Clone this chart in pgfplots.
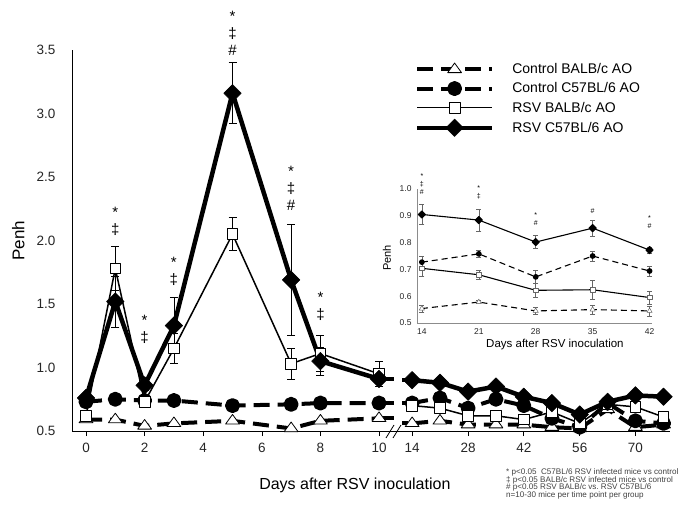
\documentclass[border=0pt]{standalone}
\usepackage{pgfplots}
\usepackage{pgfplotstable}
\pgfplotsset{compat=1.18}
\usepackage{fontspec}
\setmainfont{Liberation Sans}
\newcommand\fs[2]{\fontsize{#1bp}{#2bp}\selectfont}

% ---------- main chart, days 0-10 ----------
\pgfplotstableread{
day y
0 0.59
1 0.59
2 0.54
3 0.56
5 0.58
7 0.52
8 0.58
10 0.60
}\cbL
\pgfplotstableread{
day y
0 0.73
1 0.75
2 0.74
3 0.74
5 0.70
7 0.71
8 0.72
10 0.72
}\ccL
\pgfplotstableread{
day y err
0 0.62 0.03
1 1.78 0.17
2 0.73 0.03
3 1.15 0.12
5 2.05 0.13
7 1.03 0.12
8 1.11 0.14
10 0.95 0.10
}\rbL
\pgfplotstableread{
day y err
0 0.76 0.03
1 1.52 0.20
2 0.86 0.04
3 1.33 0.22
5 3.16 0.24
7 1.69 0.44
8 1.05 0.11
10 0.91 0.06
}\rcL
% ---------- main chart, days 14-77 (pos = place on the broken axis) ----------
\pgfplotstableread{
pos day cb cc rb rc
11.13 14 0.56 0.72 0.70 0.90
12.08 21 0.58 0.76 0.68 0.88
13.04 28 0.55 0.68 0.62 0.81
13.99 35 0.55 0.75 0.62 0.85
14.94 42 0.55 0.70 0.59 0.77
15.90 49 0.53 0.60 0.65 0.72
16.85 56 0.52 0.53 0.56 0.63
17.80 63 0.67 0.72 0.71 0.73
18.75 70 0.53 0.58 0.69 0.78
19.71 77 0.55 0.56 0.61 0.77
}\rightT
% ---------- inset ----------
\pgfplotstableread{
day cb cbe cc cce rb rbe rc rce
14 0.554 0.014 0.727 0.022 0.704 0.028 0.905 0.037
21 0.578 0.006 0.758 0.014 0.680 0.015 0.884 0.041
28 0.545 0.014 0.672 0.025 0.622 0.026 0.802 0.024
35 0.550 0.018 0.750 0.018 0.624 0.035 0.854 0.030
42 0.545 0.018 0.694 0.018 0.595 0.024 0.772 0.012
}\insetT

\pgfplotsset{
  cbS/.style={black, line width=4bp, dash pattern=on 16bp off 8bp, line join=round,
    mark=triangle*, mark size=8bp,
    mark options={solid, fill=white, draw=black, line width=0.8bp, yscale=0.8}},
  ccS/.style={black, line width=4bp, dash pattern=on 16bp off 8bp, line join=round,
    mark=*, mark size=5.5bp, mark options={solid, fill=black, draw=black}},
  rbS/.style={black, line width=1.5bp, line join=round,
    mark=square*, mark size=5.3bp,
    mark options={solid, fill=white, draw=black, line width=0.8bp}},
  rcS/.style={black, line width=4.5bp, line join=round,
    mark=square*, mark size=6.2bp,
    mark options={solid, fill=black, draw=black, rotate=45, line width=0.5bp}},
  stub/.style={black, line width=4bp, no marks, forget plot},
  ebS/.style={error bars/y dir=both, error bars/y explicit,
    error bars/error bar style={line width=0.7bp, solid, black},
    error bars/error mark options={rotate=90, mark size=4bp, line width=0.7bp, black, solid}},
  iS/.style={black, line width=1.1bp, line join=round},
  iD/.style={dash pattern=on 6bp off 4bp},
  ieb/.style={error bars/y dir=both, error bars/y explicit,
    error bars/error bar style={line width=0.5bp, solid, black!60},
    error bars/error mark options={rotate=90, mark size=2.5bp, line width=0.5bp, black!60, solid}},
}
\tikzset{
  ann/.style={font=\fs{15}{17}, inner sep=0pt, align=center, anchor=center},
  ia/.style={font=\fs{7}{8}, inner sep=0pt, align=center, anchor=center},
}

\begin{document}
\begin{tikzpicture}
\path[use as bounding box] (0bp,0bp) rectangle (685bp,513bp);

\begin{axis}[
  at={(72bp,82bp)}, anchor=south west,
  scale only axis, width=598bp, height=381bp,
  xmin=-0.478, xmax=19.93, ymin=0.5, ymax=3.5,
  axis lines*=left,
  axis line style={-, line width=0.7bp, black},
  clip=false,
  tick align=outside,
  xtick={0,2,4,6,8,10,11.13,13.04,14.94,16.85,18.75},
  xticklabels={0,2,4,6,8,10,14,28,42,56,70},
  ytick={0.5,1.0,1.5,2.0,2.5,3.0,3.5},
  yticklabels={0.5,1.0,1.5,2.0,2.5,3.0,3.5},
  ytick style={draw=none},
  xtick style={line width=0.6bp, black},
  major tick length=5bp,
  tick label style={font=\fs{13.5}{16}, text=black!85},
  xticklabel style={yshift=-4bp},
  yticklabel style={xshift=-8bp},
  xlabel={Days after RSV inoculation},
  ylabel={Penh},
  xlabel style={font=\fs{16}{19}, at={(axis description cs:0.473,-0.142)}, anchor=center},
  ylabel style={font=\fs{17}{20}, at={(axis description cs:-0.09,0.5)}, anchor=center},
  legend style={draw=none, fill=none, at={(axis description cs:0.573,0.97)},
    anchor=north west, font=\fs{14}{16}, row sep=3.5bp, column sep=16bp, inner sep=0pt},
  legend cell align=left,
  legend image code/.code={\draw[mark repeat=2,mark phase=2,#1] plot coordinates {(0bp,0bp) (37.5bp,0bp) (75bp,0bp)};},
]
\addplot[cbS] table[x=day,y=y] {\cbL};
\addlegendentry{Control BALB/c AO}
\addplot[ccS] table[x=day,y=y] {\ccL};
\addlegendentry{Control C57BL/6 AO}
\addplot[rbS, ebS] table[x=day,y=y,y error=err] {\rbL};
\addlegendentry{RSV BALB/c AO}
\addplot[rcS, ebS] table[x=day,y=y,y error=err] {\rcL};
\addlegendentry{RSV C57BL/6 AO}

% short line ends at the axis break
\addplot[stub] coordinates {(10.1,0.60) (10.5,0.60)};
\addplot[stub] coordinates {(10.1,0.72) (10.5,0.72)};
\addplot[stub] coordinates {(10.1,0.91) (10.5,0.91)};
\addplot[stub] coordinates {(10.8,0.56) (11.0,0.56)};
\addplot[stub] coordinates {(10.8,0.72) (11.0,0.72)};
\addplot[stub] coordinates {(10.8,0.90) (11.0,0.90)};

\addplot[cbS, forget plot] table[x=pos,y=cb] {\rightT};
\addplot[ccS, forget plot] table[x=pos,y=cc] {\rightT};
\addplot[rbS, forget plot] table[x=pos,y=rb] {\rightT};
\addplot[rcS, forget plot] table[x=pos,y=rc] {\rightT};

% significance marks
\node[ann] at (axis cs:1,2.154) {*\\‡};
\node[ann] at (axis cs:2,1.303) {*\\‡};
\node[ann] at (axis cs:3,1.760) {*\\‡};
\node[ann] at (axis cs:5,3.634) {*\\‡\\\#};
\node[ann] at (axis cs:7,2.413) {*\\‡\\\#};
\node[ann] at (axis cs:8,1.484) {*\\‡};
\end{axis}

% axis break
\draw[line width=0.8bp] (386bp,75bp) -- (394bp,88bp);
\draw[line width=0.8bp] (393bp,75bp) -- (401bp,88bp);

% inset
\begin{axis}[
  at={(417bp,190bp)}, anchor=south west,
  scale only axis, width=235bp, height=134bp,
  xmin=13.4, xmax=42.3, ymin=0.5, ymax=1.0,
  axis lines*=left,
  axis line style={-, line width=0.8bp, black!45},
  clip=false,
  xtick={14,21,28,35,42},
  xticklabels={14,21,28,35,42},
  ytick={0.5,0.6,0.7,0.8,0.9,1.0},
  yticklabels={0.5,0.6,0.7,0.8,0.9,1.0},
  major tick length=0pt,
  tick label style={font=\fs{8.5}{10}, text=black!85},
  xticklabel style={yshift=-2bp},
  yticklabel style={xshift=-2bp},
  xlabel={Days after RSV inoculation},
  ylabel={Penh},
  xlabel style={font=\fs{11.5}{13}, at={(axis description cs:0.587,-0.164)}, anchor=center},
  ylabel style={font=\fs{11}{13}, at={(axis description cs:-0.128,0.485)}, anchor=center},
]
\addplot[iS, iD, ieb, mark=triangle*, mark size=3bp, mark options={solid, fill=white, draw=black!60, line width=0.5bp}]
  table[x=day,y=cb,y error=cbe] {\insetT};
\addplot[iS, iD, ieb, mark=*, mark size=2.3bp, mark options={solid, fill=black}]
  table[x=day,y=cc,y error=cce] {\insetT};
\addplot[iS, ieb, mark=square*, mark size=2.2bp, mark options={solid, fill=white, draw=black!60, line width=0.5bp}]
  table[x=day,y=rb,y error=rbe] {\insetT};
\addplot[iS, ieb, mark=square*, mark size=2.5bp, mark options={solid, fill=black, rotate=45}]
  table[x=day,y=rc,y error=rce] {\insetT};

\node[ia] at (axis cs:14,1.020) {*\\‡\\\#};
\node[ia] at (axis cs:21,0.988) {*\\‡};
\node[ia] at (axis cs:28,0.887) {*\\\#};
\node[ia] at (axis cs:35,0.918) {\#};
\node[ia] at (axis cs:42,0.876) {*\\\#};
\end{axis}

% footnote
\node[anchor=north west, align=left, inner sep=0pt, font=\fs{8.1}{7.7}, text=black!75]
  at (506bp,44.5bp) {* p<0.05\ \ C57BL/6 RSV infected mice vs control\\
  ‡ p<0.05 BALB/c RSV infected mice vs control\\
  \# p<0.05 RSV BALB/c vs.\ RSV C57BL/6\\
  n=10-30 mice per time point per group};
\end{tikzpicture}
\end{document}
